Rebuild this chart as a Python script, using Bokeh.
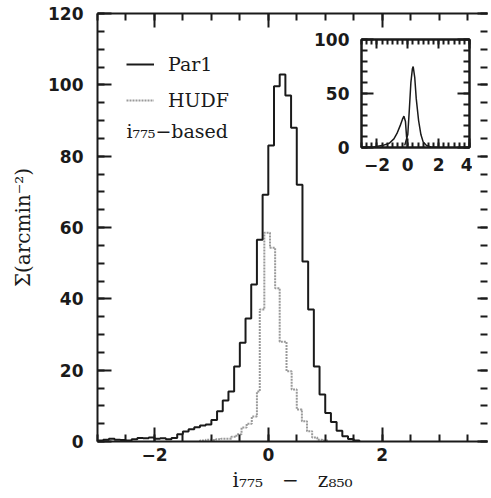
from bokeh.plotting import figure
from bokeh.models import Range1d, LinearAxis, FixedTicker, Legend, LegendItem, Label
from bokeh.layouts import column
from bokeh.embed import file_html
from bokeh.resources import INLINE

# ---------------- data ----------------
par1_bin_start = -3.0
par1_bin_width = 0.1
par1_counts = [0.3, 0.5, 0.8, 0.5, 0.4, 0.3, 0.6, 1.0, 0.9, 1.1,
               0.8, 0.9, 0.6, 1.0, 2.0, 2.8, 3.4, 4.0, 4.5, 4.8,
               6.0, 8.5, 11.5, 14.0, 21.0, 27.7, 34.5, 44.0, 56.6, 69.2,
               83.0, 99.6, 102.9, 97.0, 88.0, 72.0, 50.5, 37.0, 21.0, 13.2,
               8.0, 5.5, 3.0, 1.5, 0.7, 0.3]

hudf_edges = [-1.20, -1.10, -1.00, -0.92, -0.83, -0.74, -0.65, -0.56, -0.47, -0.38,
              -0.29, -0.20, -0.15, -0.07, 0.03, 0.12, 0.20, 0.32, 0.41, 0.50,
              0.59, 0.68, 0.77, 0.86, 0.95, 1.05]
hudf_counts = [0.3, 0.5, 0.4, 0.6, 0.8, 0.8, 1.3, 2.0, 3.9, 5.0,
               7.0, 14.0, 37.0, 58.5, 54.3, 43.0, 28.0, 19.7, 14.6, 9.0,
               5.7, 2.9, 1.1, 0.5, 0.3]

inset_a_x = [-2.8, -2.2, -1.6, -1.2, -0.9, -0.7, -0.5, -0.35, -0.25, -0.15, -0.08, 0.0]
inset_a_y = [0.0, 0.5, 2.0, 4.0, 8.0, 13.0, 20.0, 26.0, 29.0, 24.0, 10.0, 2.0]
inset_b_x = [-0.2, 0.0, 0.1, 0.2, 0.3, 0.35, 0.45, 0.55, 0.7, 0.85, 1.0, 1.2, 1.5, 2.0]
inset_b_y = [2.0, 12.0, 35.0, 60.0, 73.0, 75.0, 65.0, 45.0, 25.0, 12.0, 5.0, 2.0, 0.5, 0.0]

x_major = [-2, 0, 2]
x_minor = [-3 + 0.5 * k for k in range(15)]
y_major = [0, 20, 40, 60, 80, 100, 120]
y_minor = [5 * k for k in range(25)]

ix_major = [-2, 0, 2, 4]
ix_minor = [-3 + k / 3 for k in range(22)]
iy_major = [0, 50, 100]
iy_minor = [10 * k for k in range(11)]

labels = ["Par1", "HUDF"]
note = "i\u2087\u2087\u2085\u2212based"
NB = "\u00a0"
x_title = "i\u2087\u2087\u2085" + NB * 3 + "\u2212" + NB * 3 + "z\u2088\u2085\u2080"
y_title = "\u03a3(arcmin\u207b\u00b2)"


def step_xy(edges, counts):
    xs = [edges[0]] + list(edges)
    ys = [0.0] + list(counts) + [0.0]
    return xs, ys


par1_edges = [round(par1_bin_start + par1_bin_width * k, 3) for k in range(len(par1_counts) + 1)]

INK = "#1a1a1a"
TICK_FONT = "DejaVu Sans"
SERIF = "DejaVu Serif"
BORDER_L = 97
BORDER_R = 3

# ---------------- main figure ----------------
p = figure(width=490, height=497, x_range=Range1d(-3, 3.85), y_range=Range1d(0, 120),
           output_backend="svg", toolbar_location=None,
           min_border_left=BORDER_L, min_border_right=BORDER_R, min_border_top=13,
           min_border_bottom=56, margin=(0, 0, 0, 0))
p.outline_line_color = None
p.xgrid.visible = False
p.ygrid.visible = False
p.background_fill_color = "white"


def style_axis(ax, major, minor, tin, tmin, show_labels=True, line=True):
    ax.ticker = FixedTicker(ticks=major, minor_ticks=minor)
    ax.major_tick_in = tin
    ax.major_tick_out = 0
    ax.minor_tick_in = tmin
    ax.minor_tick_out = 0
    ax.major_tick_line_width = 2
    ax.minor_tick_line_width = 2
    ax.major_tick_line_color = INK
    ax.minor_tick_line_color = INK
    ax.axis_line_width = 2
    ax.axis_line_color = INK if line else None
    if show_labels:
        ax.major_label_text_font = TICK_FONT
        ax.major_label_text_font_size = "17px"
        ax.major_label_text_font_style = "bold"
        ax.major_label_text_color = INK
    else:
        ax.major_label_overrides = {t: "" for t in major}
        ax.major_label_text_font_size = "1px"
        ax.major_label_standoff = 0


style_axis(p.xaxis[0], x_major, x_minor, 14, 7)
style_axis(p.yaxis[0], y_major, y_minor, 14, 7)
p.xaxis[0].major_label_standoff = 6
p.yaxis[0].major_label_standoff = 14
p.xaxis[0].axis_label = x_title
p.yaxis[0].axis_label = y_title
for ax in (p.xaxis[0], p.yaxis[0]):
    ax.axis_label_text_font = SERIF
    ax.axis_label_text_font_size = "20px"
    ax.axis_label_text_font_style = "normal"
    ax.axis_label_text_color = INK
p.xaxis[0].axis_label_standoff = 4
p.yaxis[0].axis_label_standoff = 10

top_ax = LinearAxis()
style_axis(top_ax, x_major, x_minor, 14, 7, show_labels=False)
p.add_layout(top_ax, "above")
right_ax = LinearAxis()
style_axis(right_ax, y_major, y_minor, 10, 7, show_labels=False, line=False)
p.add_layout(right_ax, "right")

xs, ys = step_xy(hudf_edges, hudf_counts)
r_hudf = p.step(xs, ys, mode="after", line_color="#9a9a9a", line_width=2, line_dash="2 1")
xs, ys = step_xy(par1_edges, par1_counts)
r_par1 = p.step(xs, ys, mode="after", line_color=INK, line_width=2)

legend = Legend(items=[LegendItem(label=labels[0], renderers=[r_par1]),
                       LegendItem(label=labels[1], renderers=[r_hudf])],
                location=(29, 330), orientation="vertical")
legend.label_text_font = SERIF
legend.label_text_font_size = "19px"
legend.label_text_color = INK
legend.glyph_width = 28
legend.glyph_height = 20
legend.label_height = 20
legend.spacing = 14
legend.padding = 0
legend.margin = 0
legend.label_standoff = 14
legend.border_line_alpha = 0
legend.background_fill_alpha = 0
p.add_layout(legend)

p.add_layout(Label(x=29, y=300, x_units="screen", y_units="screen", text=note,
                   text_font=SERIF, text_font_size="19px", text_color=INK))

# ---------------- inset ----------------
inset = figure(width=BORDER_L + 108 + BORDER_R, height=158,
               x_range=Range1d(-3, 4), y_range=Range1d(0, 100),
               output_backend="svg", toolbar_location=None,
               min_border_left=BORDER_L, min_border_right=BORDER_R,
               min_border_top=12, min_border_bottom=38,
               margin=(-470, 0, 0, 264))
inset.xgrid.visible = False
inset.ygrid.visible = False
inset.outline_line_color = INK
inset.outline_line_width = 2
inset.border_fill_alpha = 0
inset.background_fill_color = "white"

style_axis(inset.xaxis[0], ix_major, ix_minor, 9, 5)
style_axis(inset.yaxis[0], iy_major, iy_minor, 12, 6)
inset.xaxis[0].major_label_standoff = 10
inset.yaxis[0].major_label_standoff = 12
it = LinearAxis()
style_axis(it, ix_major, ix_minor, 9, 5, show_labels=False)
inset.add_layout(it, "above")
ir = LinearAxis()
style_axis(ir, iy_major, iy_minor, 12, 6, show_labels=False)
inset.add_layout(ir, "right")

inset.line(inset_a_x, inset_a_y, line_color=INK, line_width=1.5)
inset.line(inset_b_x, inset_b_y, line_color=INK, line_width=1.5)

layout = column(p, inset)
open("out.html", "w").write(file_html(layout, INLINE))
